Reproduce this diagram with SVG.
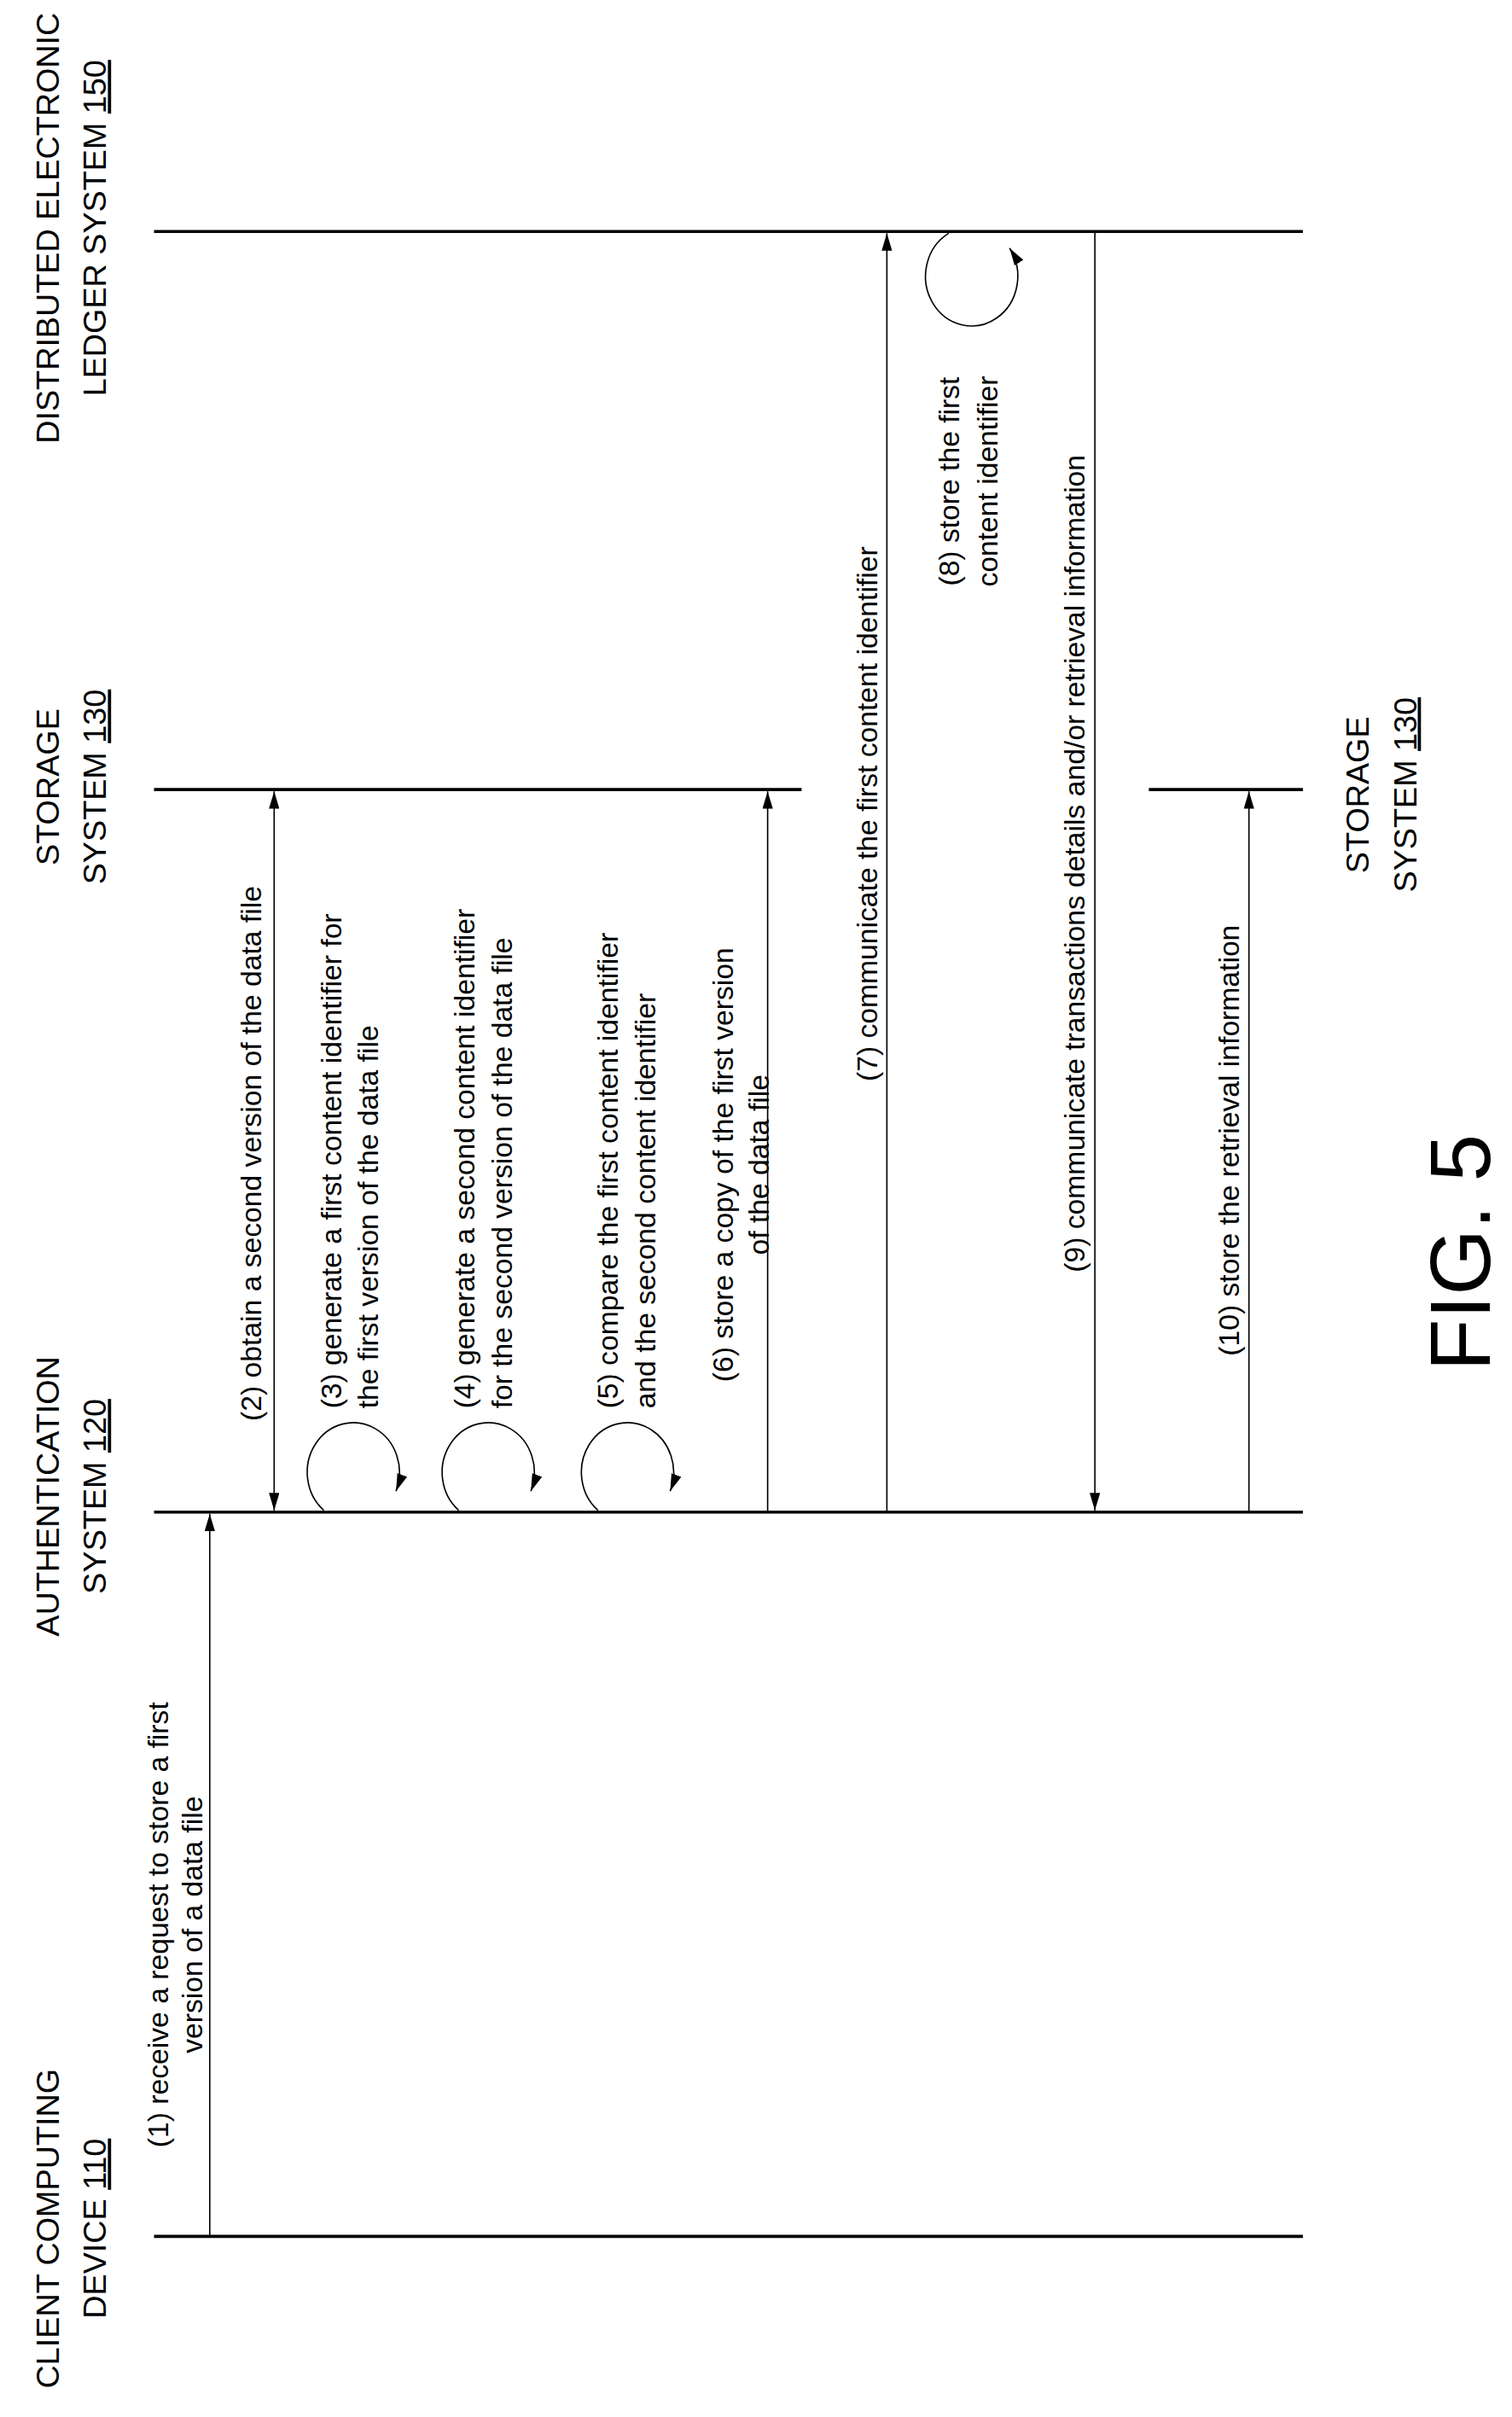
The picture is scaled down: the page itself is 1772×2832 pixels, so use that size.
<svg xmlns="http://www.w3.org/2000/svg" width="1772" height="2832" viewBox="0 0 1772 2832">
<style>
.life{stroke:#000;stroke-width:3.5;fill:none}
.msg{stroke:#000;stroke-width:1.6;fill:none}
.hd{font-family:"Liberation Sans",Arial,sans-serif;font-size:37px;fill:#000}
.lb{font-family:"Liberation Sans",Arial,sans-serif;font-size:33px;fill:#000}
.u{text-decoration:underline}
</style>
<defs>
<marker id="ah" viewBox="0 0 20 12" refX="20" refY="6" markerWidth="20" markerHeight="12" markerUnits="userSpaceOnUse" orient="auto-start-reverse">
<path d="M0,0 L20,6 L0,12 Z" fill="#000"/>
</marker>
</defs>
<rect width="1772" height="2832" fill="#fff"/>
<g transform="scale(1.02)">
<g id="lifelines">
<line class="life" x1="177" y1="266" x2="1497" y2="266"/>
<line class="life" x1="177" y1="907" x2="921" y2="907"/>
<line class="life" x1="1320" y1="907" x2="1497" y2="907"/>
<line class="life" x1="177" y1="1737" x2="1497" y2="1737"/>
<line class="life" x1="177" y1="2569" x2="1497" y2="2569"/>
</g>
<g id="headers">
<g id="n150"><text class="hd" transform="translate(68,262) rotate(-90)" text-anchor="middle">DISTRIBUTED ELECTRONIC</text>
<text class="hd" transform="translate(122,262) rotate(-90)" text-anchor="middle">LEDGER SYSTEM <tspan class="u">150</tspan></text></g>
<g id="n130a"><text class="hd" transform="translate(68,904) rotate(-90)" text-anchor="middle">STORAGE</text>
<text class="hd" transform="translate(122,904) rotate(-90)" text-anchor="middle">SYSTEM <tspan class="u">130</tspan></text></g>
<g id="n120"><text class="hd" transform="translate(68,1719) rotate(-90)" text-anchor="middle">AUTHENTICATION</text>
<text class="hd" transform="translate(122,1719) rotate(-90)" text-anchor="middle">SYSTEM <tspan class="u">120</tspan></text></g>
<g id="n110"><text class="hd" transform="translate(68,2560) rotate(-90)" text-anchor="middle">CLIENT COMPUTING</text>
<text class="hd" transform="translate(122,2560) rotate(-90)" text-anchor="middle">DEVICE <tspan class="u">110</tspan></text></g>
<g id="n130b"><text class="hd" transform="translate(1573,913) rotate(-90)" text-anchor="middle">STORAGE</text>
<text class="hd" transform="translate(1627,913) rotate(-90)" text-anchor="middle">SYSTEM <tspan class="u">130</tspan></text></g>
</g>
<g id="connectors">
<line class="msg" x1="241" y1="2569" x2="241" y2="1739" marker-end="url(#ah)"/>
<line class="msg" x1="315" y1="909" x2="315" y2="1735" marker-start="url(#ah)" marker-end="url(#ah)"/>
<path class="msg" d="M372,1735 A53 57 0 1 1 455,1713" marker-end="url(#ah)"/>
<path class="msg" d="M527,1735 A53 57 0 1 1 610,1713" marker-end="url(#ah)"/>
<path class="msg" d="M687,1735 A53 57 0 1 1 770,1713" marker-end="url(#ah)"/>
<line class="msg" x1="882" y1="1737" x2="882" y2="909" marker-end="url(#ah)"/>
<line class="msg" x1="1019" y1="1737" x2="1019" y2="268" marker-end="url(#ah)"/>
<path class="msg" d="M1090,268 A53 57 0 1 0 1160,285" marker-end="url(#ah)"/>
<line class="msg" x1="1258" y1="266" x2="1258" y2="1735" marker-end="url(#ah)"/>
<line class="msg" x1="1435" y1="1737" x2="1435" y2="909" marker-end="url(#ah)"/>
</g>
<g id="labels">
<text class="lb" transform="translate(193,2211) rotate(-90)" text-anchor="middle">(1) receive a request to store a first</text>
<text class="lb" transform="translate(232,2211) rotate(-90)" text-anchor="middle">version of a data file</text>
<text class="lb" transform="translate(300,1325) rotate(-90)" text-anchor="middle">(2) obtain a second version of the data file</text>
<text class="lb" transform="translate(392,1618) rotate(-90)">(3) generate a first content identifier for</text>
<text class="lb" transform="translate(434,1618) rotate(-90)">the first version of the data file</text>
<text class="lb" transform="translate(545,1618) rotate(-90)">(4) generate a second content identifier</text>
<text class="lb" transform="translate(588,1618) rotate(-90)">for the second version of the data file</text>
<text class="lb" transform="translate(710,1618) rotate(-90)">(5) compare the first content identifier</text>
<text class="lb" transform="translate(753,1618) rotate(-90)">and the second content identifier</text>
<text class="lb" transform="translate(842,1338) rotate(-90)" text-anchor="middle">(6) store a copy of the first version</text>
<text class="lb" transform="translate(883,1338) rotate(-90)" text-anchor="middle">of the data file</text>
<text class="lb" transform="translate(1008,935) rotate(-90)" text-anchor="middle">(7) communicate the first content identifier</text>
<text class="lb" transform="translate(1102,553) rotate(-90)" text-anchor="middle">(8) store the first</text>
<text class="lb" transform="translate(1146,553) rotate(-90)" text-anchor="middle">content identifier</text>
<text class="lb" transform="translate(1246,992) rotate(-90)" text-anchor="middle">(9) communicate transactions details and/or retrieval information</text>
<text class="lb" transform="translate(1424,1310) rotate(-90)" text-anchor="middle">(10) store the retrieval information</text>
</g>
<text class="hd" style="font-size:98px" transform="translate(1712,1439) rotate(-90)" text-anchor="middle">FIG. 5</text>
</g>
</svg>
